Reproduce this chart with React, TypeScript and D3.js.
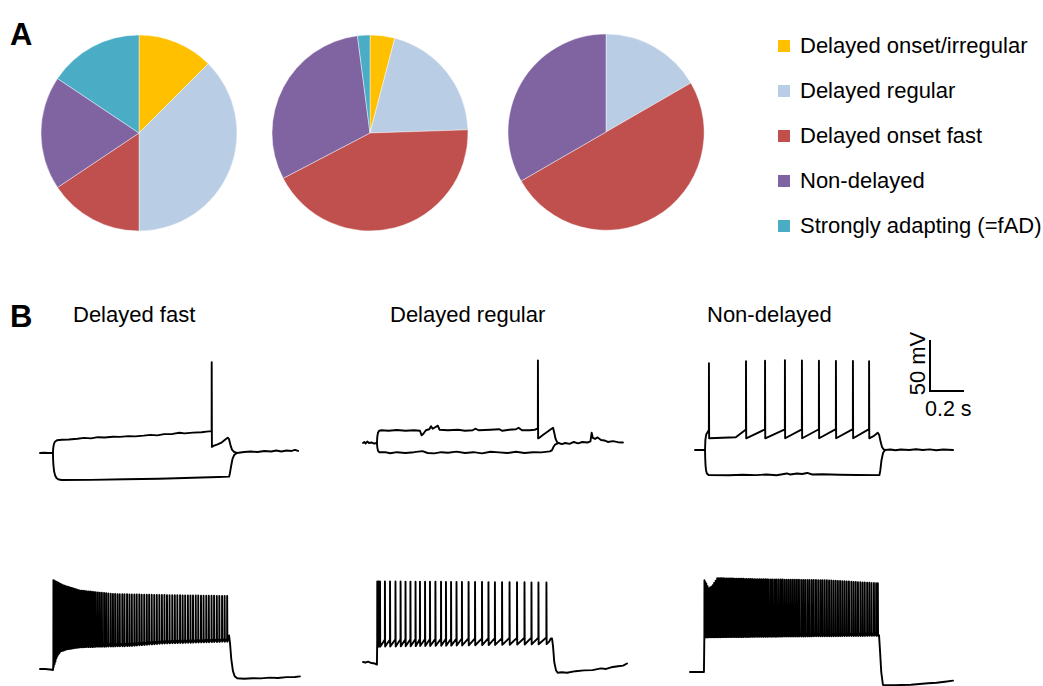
import React from "react";
import * as d3 from "d3";

type P = [number, number];

// ---------- Panel A: pie data ----------
const categories = [
  "Delayed onset/irregular",
  "Delayed regular",
  "Delayed onset fast",
  "Non-delayed",
  "Strongly adapting (=fAD)",
];
const sliceColors = ["#FFC000", "#B9CDE5", "#C0504D", "#8064A2", "#4BACC6"];
const pieLeft = [4, 12, 5, 6, 5];
const pieMiddle = [2, 10, 21, 15, 1];
const pieRight = [0, 2, 6, 4, 0];

// ---------- Panel B: trace titles & scale bar ----------
const traceTitles = ["Delayed fast", "Delayed regular", "Non-delayed"];
const scaleBarMs = 200;
const scaleBarMv = 50;
const scaleBarLabels = ["50 mV", "0.2 s"];

// ---------- Panel B: traces (time ms, membrane potential mV relative to rest) ----------
// Trace 1: Delayed fast, step responses
const t1Pre: P[] = [[0, 0], [25, 0.3], [50, 0], [76, 0]];
const t1Up: P[] = [[76, 0], [78, 5], [82, 9], [88, 11], [100, 12.5], [129, 13], [170, 13.3], [220, 14], [260, 14.8], [300, 14.3], [340, 15.5], [380, 15.2], [430, 16], [470, 15.8], [520, 16.5], [560, 16.3], [610, 17], [650, 17.8], [690, 17.3], [730, 18.5], [780, 18.7], [820, 19.8], [850, 19.2], [900, 20], [950, 20.3], [980, 21], [1005, 21.5], [1020, 7], [1045, 8.5], [1070, 10.5], [1092, 13.5], [1104, 15], [1112, 13.5], [1120, 8], [1130, 3], [1142, 1], [1158, 0]];
const t1Spikes = [1010];
const t1Env = { peak: [[0, 89]] as P[], thr: [[0, 21.5]] as P[], trough: [[0, 6]] as P[] };
const t1Post: P[] = [[1158, 0], [1200, 1], [1240, 1.5], [1280, 1], [1320, 2], [1360, 1.5], [1390, 2.5], [1420, 1.5], [1450, 2.5], [1480, 2], [1500, 3], [1518, 2]];
const t1Low: P[] = [[76, 0], [77, -6], [79, -12], [83, -18], [89, -22], [98, -24.8], [110, -26], [128, -26.5], [300, -26.3], [500, -25.8], [700, -25.2], [900, -24.3], [1050, -23.6], [1112, -23.2], [1117, -20], [1124, -13], [1132, -6], [1142, -2], [1158, 0]];

// Trace 2: Delayed regular, step responses
const t2Pre: P[] = [[0, 0], [8, 1], [16, -0.5], [25, 1.5], [35, 0], [50, 0.5], [65, -0.5], [82, 0]];
const t2Up: P[] = [[82, 0], [84, 6], [88, 10], [95, 12], [110, 12.5], [150, 12], [200, 12.7], [250, 12], [300, 12.5], [335, 12], [345, 7.5], [355, 9], [370, 12.5], [390, 13.5], [400, 16.5], [410, 14], [425, 15.5], [440, 17], [450, 13], [500, 12.5], [560, 13], [600, 12], [645, 12.5], [660, 14], [680, 12.5], [750, 13], [800, 13.5], [820, 12], [860, 13], [900, 13.5], [915, 15], [935, 12.5], [980, 12.5], [1010, 13], [1026, 14], [1040, 5.5], [1060, 8], [1085, 11], [1105, 13.5], [1118, 15], [1125, 10], [1133, 4], [1141, 1], [1150, 0]];
const t2Spikes = [1029];
const t2Env = { peak: [[0, 81]] as P[], thr: [[0, 14]] as P[], trough: [[0, 4.5]] as P[] };
const t2Post: P[] = [[1150, 0], [1170, -1.2], [1190, 0], [1215, -0.8], [1240, 1], [1265, -0.3], [1290, 1], [1320, 0.5], [1338, 1.5], [1345, 10], [1352, 5], [1365, 4], [1380, 5.5], [1400, 3], [1420, 2.5], [1440, 1], [1470, 1.8], [1500, 0.8], [1529, 0.5]];
const t2Low: P[] = [[82, 0], [84, -4], [88, -7.5], [95, -9], [130, -9], [160, -10], [200, -9], [250, -9.8], [300, -9], [350, -8], [380, -9.8], [420, -10.2], [460, -9], [500, -9.6], [550, -8.5], [600, -9.8], [650, -9], [700, -10.2], [750, -8.6], [800, -9.2], [850, -9.8], [900, -8.6], [950, -9.8], [1000, -9], [1050, -9.2], [1100, -8.2], [1112, -7], [1120, -4], [1130, -1.5], [1150, 0]];

// Trace 3: Non-delayed, step responses
const t3Pre: P[] = [[0, 0], [59, 0]];
const t3Up: P[] = [[59, 0], [61, 10], [66, 15], [72, 17], [79, 19], [240, 12.5], [1050, 13.5], [1075, 17], [1083, 15], [1092, 8], [1100, 3], [1110, 0.5], [1118, 0]];
const t3Spikes = [82, 300, 412, 529, 629, 729, 829, 929, 1024];
const t3Env = { peak: [[82, 85], [300, 87], [529, 88], [1024, 87]] as P[], thr: [[82, 20], [1024, 20.5]] as P[], trough: [[82, 11.5], [1024, 11.5]] as P[] };
const t3Post: P[] = [[1118, 0], [1150, 0.5], [1180, -0.3], [1210, 0.5], [1260, 0], [1300, 0.8], [1340, 0], [1380, 0.6], [1420, -0.3], [1460, 0.5], [1518, 0]];
const t3Low: P[] = [[59, 0], [60, -8], [62, -15], [65, -20], [70, -23], [80, -24.5], [200, -24.7], [280, -24.3], [360, -24.6], [420, -24], [480, -24.8], [540, -23], [560, -24], [600, -23], [630, -23.5], [660, -22.5], [690, -24], [750, -23.8], [850, -24.3], [950, -24.5], [1085, -24.6], [1090, -20], [1097, -10], [1106, -3], [1118, 0]];

// Trace 4: Delayed fast, suprathreshold
const t4Pre: P[] = [[0, 0], [30, 0], [60, -0.5], [76, -1], [77, 0]];
const t4Spikes = [79, 84, 89, 95, 101, 107, 113, 120, 127, 134, 141, 148, 156, 164, 172, 180, 188, 197, 206, 215, 224, 233, 243, 253, 263, 273, 284, 295, 306, 317, 328, 340, 352, 364, 377, 389, 402, 416, 429, 442, 456, 469, 484, 497, 512, 526, 540, 555, 569, 584, 598, 613, 628, 642, 657, 672, 687, 702, 717, 732, 747, 762, 778, 793, 808, 824, 839, 854, 870, 885, 900, 916, 931, 947, 962, 978, 993, 1009, 1024, 1040, 1055, 1071, 1086, 1101];
const t4Env = {
  peak: [[79, 87], [137, 82], [235, 77], [431, 73.5], [724, 72.5], [1098, 71.6]] as P[],
  thr: [[79, 6], [98, 15], [118, 20], [157, 22.3], [235, 24.3], [529, 25.5], [724, 28], [1098, 29.8]] as P[],
  trough: [[79, 2], [98, 12], [118, 17], [157, 19.3], [235, 21.3], [529, 22.5], [724, 25], [1098, 26.8]] as P[],
};
const t4Post: P[] = [[1108, 30], [1112, 33], [1118, 25], [1125, 10], [1135, -2], [1145, -7], [1160, -9], [1200, -9.5], [1250, -9], [1300, -9.2], [1350, -8.5], [1400, -8.8], [1450, -8], [1500, -7.8], [1529, -7.2]];

// Trace 5: Delayed regular, suprathreshold
const t5Pre: P[] = [[0, 0], [15, -0.5], [30, 0.3], [50, -1], [70, -1.5], [82, -2.5]];
const t5Spikes = [84, 92, 100, 129, 159, 191, 221, 250, 279, 309, 335, 365, 394, 426, 459, 488, 518, 550, 582, 621, 659, 700, 738, 776, 818, 862, 906, 950, 991, 1032, 1079];
const t5Env = {
  peak: [[84, 79], [1079, 78]] as P[],
  thr: [[84, 22], [1079, 24]] as P[],
  trough: [[84, 15], [500, 16], [1079, 17.5]] as P[],
};
const t5Post: P[] = [[1095, 20], [1105, 23], [1112, 23], [1118, 15], [1125, 0], [1135, -8], [1145, -10.5], [1170, -10], [1200, -10.5], [1250, -9], [1300, -8.2], [1350, -8], [1400, -6.3], [1430, -6.8], [1460, -5.2], [1500, -4.2], [1530, -3.5], [1553, -1.5]];

// Trace 6: Non-delayed, suprathreshold
const t6Pre: P[] = [[0, 0], [82, 0]];
const t6Spikes = [85, 90, 96, 103, 110, 118, 126, 134, 142, 151, 160, 169, 178, 187, 196, 205, 215, 224, 234, 243, 253, 263, 273, 283, 293, 303, 313, 324, 334, 345, 355, 366, 377, 387, 398, 409, 420, 431, 442, 453, 464, 476, 487, 499, 510, 522, 534, 545, 557, 569, 581, 593, 605, 617, 629, 641, 654, 666, 678, 691, 703, 716, 728, 741, 754, 767, 779, 792, 805, 818, 831, 844, 857, 870, 883, 896, 909, 922, 935, 949, 962, 975, 988, 1002, 1015, 1028, 1042, 1055, 1068, 1082, 1095, 1105];
const t6Env = {
  peak: [[85, 90], [110, 82], [130, 84], [160, 92], [400, 91], [800, 90], [1105, 87]] as P[],
  thr: [[85, 37], [1105, 38.5]] as P[],
  trough: [[85, 34], [1105, 35.5]] as P[],
};
const t6Post: P[] = [[1108, 36], [1112, 36], [1118, 20], [1125, 0], [1135, -12.7], [1200, -13], [1300, -12.5], [1400, -11], [1450, -10.5], [1500, -9.5], [1547, -8.5]];

// ---------- helpers ----------
function envelope(pts: P[]): (t: number) => number {
  if (pts.length === 1) return () => pts[0][1];
  const s = d3.scaleLinear().domain(pts.map((p) => p[0])).range(pts.map((p) => p[1])).clamp(true);
  return (t: number) => s(t);
}

function spikePoints(times: number[], env: { peak: P[]; thr: P[]; trough: P[] }): P[] {
  const pk = envelope(env.peak);
  const th = envelope(env.thr);
  const tr = envelope(env.trough);
  return times.flatMap((t) => [
    [t - 0.4, th(t)] as P,
    [t, pk(t)] as P,
    [t + 1.2, tr(t)] as P,
  ]);
}

function merge(...segs: P[][]): P[] {
  const all = segs.flat().slice().sort((a, b) => a[0] - b[0]);
  const out: P[] = [];
  for (const p of all) {
    if (out.length && out[out.length - 1][0] === p[0] && out[out.length - 1][1] === p[1]) continue;
    out.push(p);
  }
  return out;
}

const FONT = "'Liberation Sans', Arial, Helvetica, sans-serif";

// time (ms) -> px offset, voltage (mV) -> px offset
const xScale = d3.scaleLinear().domain([0, 1000]).range([0, 170]);
const yScale = d3.scaleLinear().domain([0, 50]).range([0, -51]);

interface TraceSpec {
  x0: number;
  y0: number;
  paths: P[][];
}

const traces: TraceSpec[] = [
  { x0: 40, y0: 453, paths: [merge(t1Pre, t1Up, spikePoints(t1Spikes, t1Env), t1Post), t1Low] },
  { x0: 363, y0: 443, paths: [merge(t2Pre, t2Up, spikePoints(t2Spikes, t2Env), t2Post), t2Low] },
  { x0: 695, y0: 450, paths: [merge(t3Pre, t3Up, spikePoints(t3Spikes, t3Env), t3Post), t3Low] },
  { x0: 40, y0: 669, paths: [merge(t4Pre, spikePoints(t4Spikes, t4Env), t4Post)] },
  { x0: 363, y0: 662, paths: [merge(t5Pre, spikePoints(t5Spikes, t5Env), t5Post)] },
  { x0: 690, y0: 672, paths: [merge(t6Pre, spikePoints(t6Spikes, t6Env), t6Post)] },
];

const pies = [
  { data: pieLeft, cx: 139, cy: 133 },
  { data: pieMiddle, cx: 370, cy: 133 },
  { data: pieRight, cx: 606, cy: 132 },
];
const R = 98;

export default function App() {
  const pieGen = d3.pie<number>().sort(null).value((d) => d);
  const arcGen = d3.arc<d3.PieArcDatum<number>>().innerRadius(0).outerRadius(R);
  const rowY = d3.scaleLinear().domain([0, categories.length - 1]).range([45, 225]);
  const titleX = [73, 390, 707];

  const barX = 930;
  const barY = 391;

  return (
    <div style={{ position: "absolute", left: 0, top: 0 }}>
      <svg width={1043} height={686} style={{ display: "block", background: "#fff" }}>
        <rect width={1043} height={686} fill="#fff" />
        {/* Panel letters */}
        <text x={10} y={45} fontFamily={FONT} fontWeight="bold" fontSize={31} fill="#000">A</text>
        <text x={10} y={327} fontFamily={FONT} fontWeight="bold" fontSize={31} fill="#000">B</text>

        {/* Pies */}
        {pies.map((p, i) => (
          <g key={i} transform={`translate(${p.cx},${p.cy})`}>
            {pieGen(p.data).filter((a) => a.value > 0).map((a) => (
              <path
                key={a.index}
                d={arcGen(a) || ""}
                fill={sliceColors[a.index]}
                stroke="#ffffff"
                strokeWidth={0.6}
                strokeOpacity={0.7}
              />
            ))}
          </g>
        ))}

        {/* Legend */}
        {categories.map((c, i) => (
          <g key={c}>
            <rect x={778} y={rowY(i) - 5} width={12} height={12} fill={sliceColors[i]} />
            <text x={800} y={rowY(i) + 7.5} fontFamily={FONT} fontSize={22} fill="#000">{c}</text>
          </g>
        ))}

        {/* Trace titles */}
        {traceTitles.map((t, i) => (
          <text key={t} x={titleX[i]} y={322} fontFamily={FONT} fontSize={22} fill="#000">{t}</text>
        ))}

        {/* Traces */}
        {traces.map((tr, i) => {
          const line = d3
            .line<P>()
            .x((d) => tr.x0 + xScale(d[0]))
            .y((d) => tr.y0 + yScale(d[1]));
          return (
            <g key={i}>
              {tr.paths.map((pts, j) => (
                <path
                  key={j}
                  d={line(pts) || ""}
                  fill="none"
                  stroke="#000"
                  strokeWidth={1.9}
                  strokeLinejoin="round"
                  strokeLinecap="round"
                />
              ))}
            </g>
          );
        })}

        {/* Scale bar */}
        <path
          d={`M${barX},${barY + yScale(scaleBarMv)} L${barX},${barY} L${barX + xScale(scaleBarMs)},${barY}`}
          fill="none"
          stroke="#000"
          strokeWidth={2}
        />
        <text
          transform={`translate(${barX - 5},${barY + yScale(scaleBarMv) / 2 - 2}) rotate(-90)`}
          textAnchor="middle"
          fontFamily={FONT}
          fontSize={22}
          fill="#000"
        >
          {scaleBarLabels[0]}
        </text>
        <text x={barX - 5} y={416} fontFamily={FONT} fontSize={21.5} fill="#000">{scaleBarLabels[1]}</text>
      </svg>
    </div>
  );
}
